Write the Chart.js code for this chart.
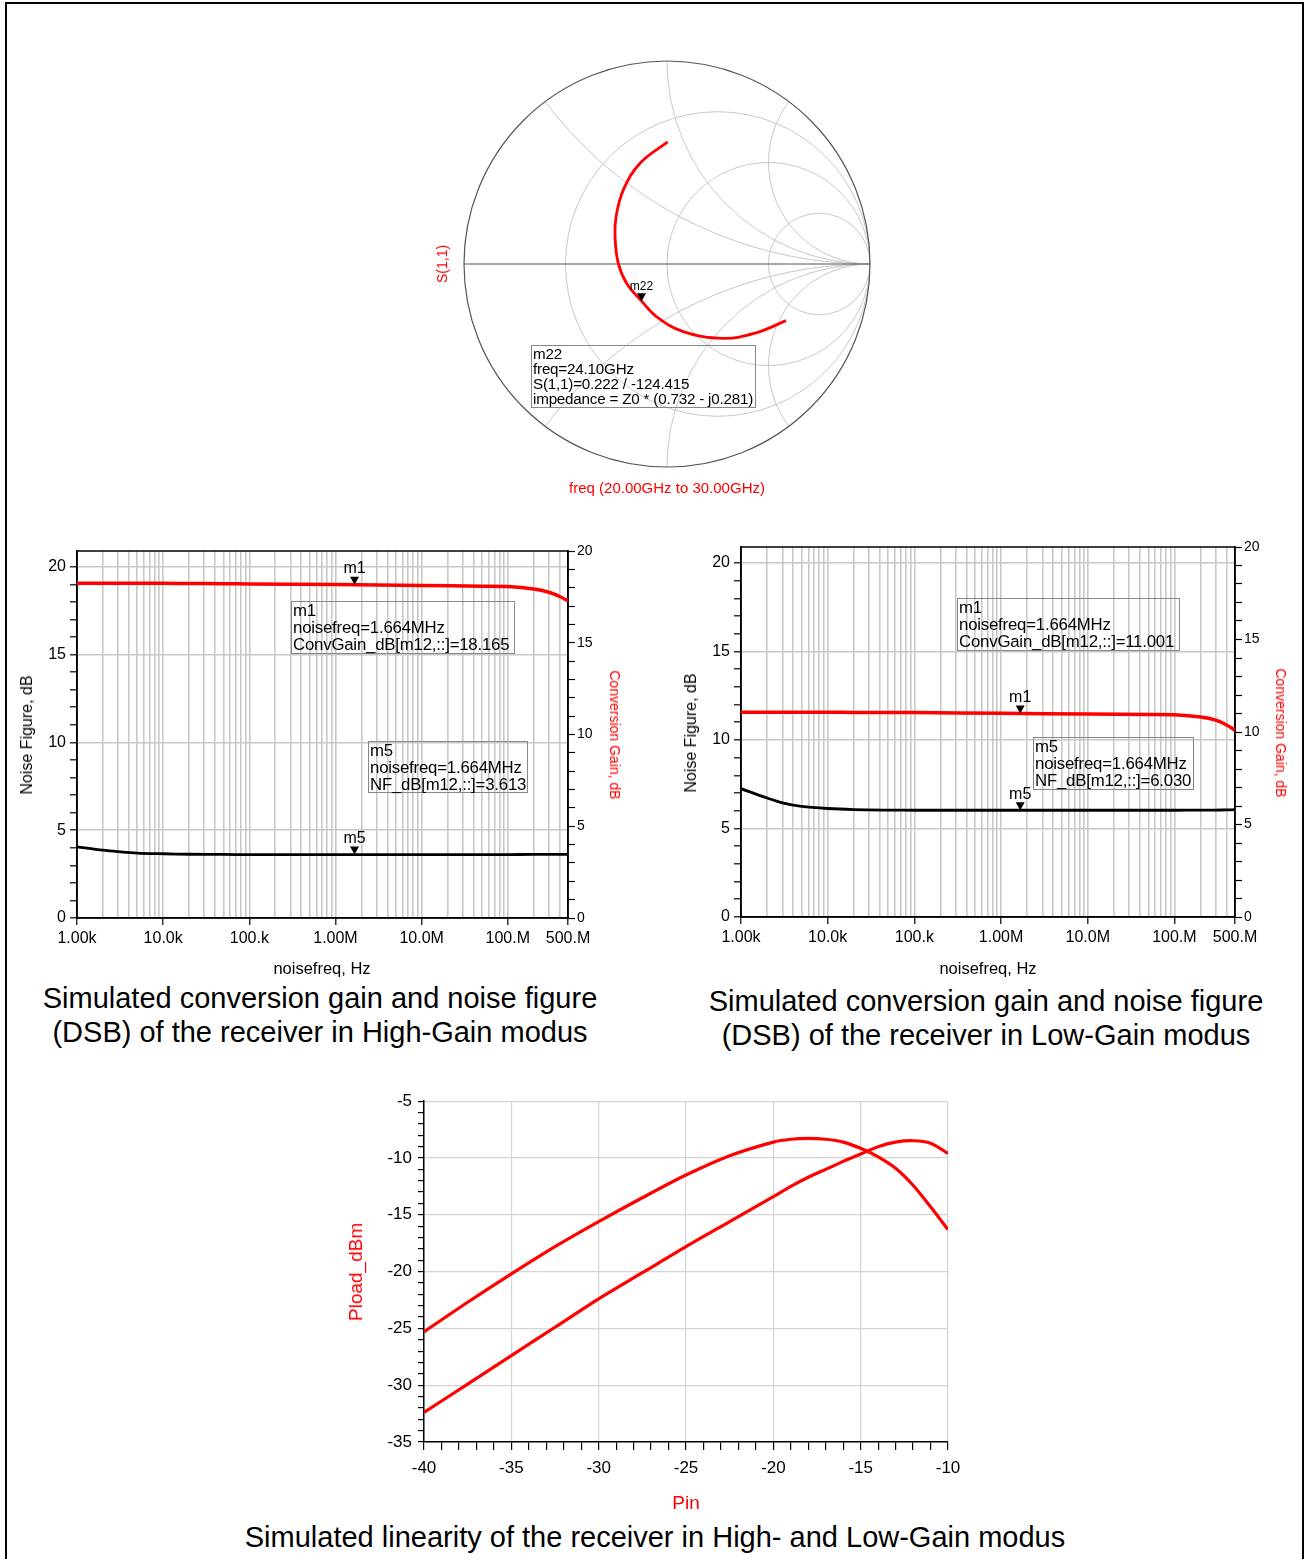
<!DOCTYPE html>
<html>
<head>
<meta charset="utf-8">
<script src="https://cdn.jsdelivr.net/npm/chart.js@4.4.0/dist/chart.umd.min.js"></script>
<style>
  body { margin: 0; background: #fff; font-family: "Liberation Sans", Arial, sans-serif; }
  #page { position: relative; width: 1309px; height: 1559px; overflow: hidden; }
  #frame { position: absolute; left: 5px; top: 2px; width: 1299px; height: 1600px; border: 2px solid #000; box-sizing: border-box; }
  canvas { position: absolute; }
  .lbl { position: absolute; transform: translate(-50%, -50%); white-space: nowrap; }
  .box { position: absolute; border: 1px solid #888; box-sizing: border-box; font-size: 16.8px; line-height: 17px; padding: 0 1px; white-space: nowrap; letter-spacing: -0.2px; }
  .cap { position: absolute; text-align: center; font-size: 29px; line-height: 34px; white-space: nowrap; }
</style>
</head>
<body>
<div id="page">
  <div id="frame"></div>

  <!-- Smith chart -->
  <canvas id="smith" width="500" height="470" style="left:420px; top:40px;"></canvas>
  <div class="lbl" style="left:442px; top:264px; transform:translate(-50%,-50%) rotate(-90deg); color:#f00; font-size:14px;">S(1,1)</div>
  <div class="lbl" style="left:667px; top:487px; color:#f00; font-size:15px;">freq (20.00GHz to 30.00GHz)</div>
  <div class="box" style="left:531px; top:345px; width:225px; height:63px; font-size:15.2px; line-height:15px;">m22<br>freq=24.10GHz<br>S(1,1)=0.222 / -124.415<br>impedance = Z0 * (0.732 - j0.281)</div>

  <!-- High gain -->
  <canvas id="nfHighChart" width="640" height="440" style="left:10px; top:530px;"></canvas>
  <div class="lbl" style="left:27px; top:735px; transform:translate(-50%,-50%) rotate(-90deg); font-size:16px;">Noise Figure, dB</div>
  <div class="lbl" style="left:615px; top:735px; transform:translate(-50%,-50%) rotate(90deg); font-size:14px; color:#f00;">Conversion Gain, dB</div>
  <div class="lbl" style="left:322px; top:968px; font-size:16.5px;">noisefreq, Hz</div>
  <div class="box" style="left:291px; top:601px; width:224px; height:53px;">m1<br>noisefreq=1.664MHz<br>ConvGain_dB[m12,::]=18.165</div>
  <div class="box" style="left:368px; top:741px; width:160px; height:52px;">m5<br>noisefreq=1.664MHz<br>NF_dB[m12,::]=3.613</div>
  <div class="cap" style="left:20px; width:600px; top:981px;">Simulated conversion gain and noise figure<br>(DSB) of the receiver in High-Gain modus</div>

  <!-- Low gain -->
  <canvas id="nfLowChart" width="630" height="440" style="left:676px; top:526px;"></canvas>
  <div class="lbl" style="left:691px; top:733px; transform:translate(-50%,-50%) rotate(-90deg); font-size:16px;">Noise Figure, dB</div>
  <div class="lbl" style="left:1281px; top:733px; transform:translate(-50%,-50%) rotate(90deg); font-size:14px; color:#f00;">Conversion Gain, dB</div>
  <div class="lbl" style="left:988px; top:968px; font-size:16.5px;">noisefreq, Hz</div>
  <div class="box" style="left:957px; top:598px; width:223px; height:53px;">m1<br>noisefreq=1.664MHz<br>ConvGain_dB[m12,::]=11.001</div>
  <div class="box" style="left:1033px; top:737px; width:161px; height:53px;">m5<br>noisefreq=1.664MHz<br>NF_dB[m12,::]=6.030</div>
  <div class="cap" style="left:686px; width:600px; top:984px;">Simulated conversion gain and noise figure<br>(DSB) of the receiver in Low-Gain modus</div>

  <!-- Linearity -->
  <canvas id="linChart" width="640" height="420" style="left:330px; top:1085px;"></canvas>
  <div class="lbl" style="left:356px; top:1272px; transform:translate(-50%,-50%) rotate(-90deg); font-size:19px; color:#f00;">Pload_dBm</div>
  <div class="lbl" style="left:686px; top:1503px; font-size:19px; color:#f00;">Pin</div>
  <div class="cap" style="left:155px; width:1000px; top:1520px;">Simulated linearity of the receiver in High- and Low-Gain modus</div>
</div>

<script>
// S(1,1) trace, 20 GHz -> 30 GHz (reflection coefficient, real / imag)
const s11Re = [0.003, -0.133, -0.215, -0.251, -0.256, -0.240, -0.199, -0.125, -0.051, 0.080, 0.277, 0.442, 0.586];
const s11Im = [0.602, 0.496, 0.365, 0.233, 0.134, 0.003, -0.095, -0.183, -0.260, -0.333, -0.366, -0.338, -0.279];
const m22 = { mag: 0.222, angDeg: -124.415 };
const smithR = [1 / 3, 1, 3];
const smithX = [0.5, 1, 2, -0.5, -1, -2];

// noise figure / conversion gain vs noisefreq
const freqHz = [1e3, 2e3, 3e3, 5e3, 1e4, 2e4, 5e4, 1e5, 1e6, 1e7, 5e7, 1e8, 2e8, 3e8, 4e8, 5e8];
const convGainHigh = [18.24, 18.24, 18.24, 18.24, 18.24, 18.23, 18.22, 18.2, 18.17, 18.12, 18.08, 18.06, 17.93, 17.75, 17.52, 17.28];
const nfHigh = [4.05, 3.86, 3.78, 3.7, 3.66, 3.63, 3.62, 3.61, 3.61, 3.61, 3.61, 3.61, 3.62, 3.62, 3.62, 3.63];
const convGainLow = [11.07, 11.07, 11.07, 11.07, 11.07, 11.06, 11.06, 11.05, 11.01, 10.97, 10.95, 10.93, 10.81, 10.64, 10.38, 10.1];
const nfLow = [7.25, 6.72, 6.45, 6.25, 6.13, 6.07, 6.04, 6.03, 6.03, 6.03, 6.03, 6.03, 6.04, 6.04, 6.05, 6.06];
const markerFreq = 1.664e6;
const xTickValues = [1e3, 1e4, 1e5, 1e6, 1e7, 1e8, 5e8];
const xTickLabels = ['1.00k', '10.0k', '100.k', '1.00M', '10.0M', '100.M', '500.M'];
const dbMajorTicks = [0, 5, 10, 15, 20];

// Pload vs Pin
const pinDbm = [-40, -37.5, -35, -32.5, -30, -27.5, -25, -22.5, -20, -19, -18, -17, -16, -15, -14, -13, -12, -11, -10];
const ploadHigh = [-25.3, -22.7, -20.2, -17.8, -15.6, -13.5, -11.5, -9.8, -8.6, -8.35, -8.27, -8.35, -8.6, -9.15, -9.9, -10.9, -12.4, -14.3, -16.3];
const ploadLow = [-32.4, -29.9, -27.4, -24.9, -22.4, -20.1, -17.8, -15.6, -13.4, -12.5, -11.7, -11.0, -10.3, -9.65, -9.0, -8.6, -8.48, -8.7, -9.6];
const pinMajorTicks = [-40, -35, -30, -25, -20, -15, -10];
const ploadMajorTicks = [-35, -30, -25, -20, -15, -10, -5];

Chart.defaults.font.family = '"Liberation Sans", Arial, sans-serif';
Chart.defaults.color = '#000';
Chart.defaults.animation = false;
Chart.defaults.plugins.legend.display = false;
Chart.defaults.plugins.tooltip.enabled = false;

const GRID = '#c8c8c8';
const NONE = 'rgba(0,0,0,0)';

function drawMarker(ctx, x, y, label, font) {
    ctx.save();
    ctx.fillStyle = '#000';
    ctx.beginPath();
    ctx.moveTo(x, y);
    ctx.lineTo(x - 4.5, y - 8);
    ctx.lineTo(x + 4.5, y - 8);
    ctx.closePath();
    ctx.fill();
    ctx.font = font;
    ctx.textAlign = 'center';
    ctx.textBaseline = 'bottom';
    ctx.fillText(label, x, y - 8);
    ctx.restore();
}

function intTicks(min, max) {
    const t = [];
    for (let v = min; v <= max; v++) t.push({ value: v });
    return t;
}

// ---- Smith chart
new Chart(document.getElementById('smith'), {
    type: 'scatter',
    data: {
        datasets: [{
            data: s11Re.map((r, i) => ({ x: r, y: s11Im[i] })),
            showLine: true,
            borderColor: '#ff0000',
            borderWidth: 2.8,
            pointRadius: 0,
            tension: 0.4
        }]
    },
    options: {
        responsive: false,
        layout: { padding: { left: 44, top: 21, right: 50, bottom: 43 } },
        scales: {
            x: { display: false, min: -1, max: 1 },
            y: { display: false, min: -1, max: 1 }
        }
    },
    plugins: [{
        id: 'smithGrid',
        beforeDatasetsDraw(chart) {
            const ctx = chart.ctx, sx = chart.scales.x, sy = chart.scales.y;
            const cx = sx.getPixelForValue(0), cy = sy.getPixelForValue(0);
            const R = sx.getPixelForValue(1) - cx;
            ctx.save();
            ctx.beginPath();
            ctx.arc(cx, cy, R, 0, 2 * Math.PI);
            ctx.clip();
            ctx.strokeStyle = GRID;
            ctx.lineWidth = 1;
            smithR.forEach(r => {
                ctx.beginPath();
                ctx.arc(cx + R * r / (r + 1), cy, R / (r + 1), 0, 2 * Math.PI);
                ctx.stroke();
            });
            smithX.forEach(x => {
                ctx.beginPath();
                ctx.arc(cx + R, cy - R / x, R / Math.abs(x), 0, 2 * Math.PI);
                ctx.stroke();
            });
            ctx.restore();
            ctx.save();
            ctx.strokeStyle = '#555';
            ctx.lineWidth = 1.2;
            ctx.beginPath();
            ctx.arc(cx, cy, R, 0, 2 * Math.PI);
            ctx.stroke();
            ctx.beginPath();
            ctx.moveTo(cx - R, cy);
            ctx.lineTo(cx + R, cy);
            ctx.stroke();
            ctx.restore();
        },
        afterDatasetsDraw(chart) {
            const a = m22.angDeg * Math.PI / 180;
            const x = chart.scales.x.getPixelForValue(m22.mag * Math.cos(a));
            const y = chart.scales.y.getPixelForValue(m22.mag * Math.sin(a));
            drawMarker(chart.ctx, x, y, 'm22', '12px "Liberation Sans", Arial, sans-serif');
        }
    }]
});

// ---- NF / conversion gain charts
const logTicks = [];
for (let e = 3; e <= 8; e++) {
    for (let k = 1; k <= 9; k++) {
        const v = k * Math.pow(10, e);
        if (v <= 5e8) logTicks.push(v);
    }
}

function noiseChart(id, area, nf, cg, nfMark, cgMark) {
    const canvas = document.getElementById(id);
    const w = canvas.width, h = canvas.height;
    const dbLabel = v => dbMajorTicks.includes(v) ? String(v) : '';
    return new Chart(canvas, {
        type: 'scatter',
        data: {
            datasets: [{
                data: freqHz.map((f, i) => ({ x: f, y: cg[i] })),
                yAxisID: 'y2',
                showLine: true,
                borderColor: '#ff0000',
                borderWidth: 3.5,
                pointRadius: 0,
                tension: 0.3
            }, {
                data: freqHz.map((f, i) => ({ x: f, y: nf[i] })),
                yAxisID: 'y',
                showLine: true,
                borderColor: '#000',
                borderWidth: 2.8,
                pointRadius: 0,
                tension: 0.3
            }]
        },
        options: {
            responsive: false,
            layout: { padding: { top: area.t, left: 0, right: 0, bottom: 0 } },
            scales: {
                x: {
                    type: 'logarithmic',
                    min: 1e3,
                    max: 5e8,
                    afterBuildTicks: s => { s.ticks = logTicks.map(v => ({ value: v })); },
                    afterFit: s => { s.height = h - area.b; },
                    ticks: {
                        autoSkip: false,
                        maxRotation: 0,
                        padding: 4,
                        font: { size: 16 },
                        callback: v => {
                            const i = xTickValues.indexOf(v);
                            return i < 0 ? '' : xTickLabels[i];
                        }
                    },
                    grid: {
                        color: GRID,
                        lineWidth: 1.6,
                        tickLength: 7,
                        tickWidth: 1.2,
                        tickColor: c => (c.tick && xTickValues.includes(c.tick.value)) ? '#000' : NONE
                    },
                    border: { color: '#000', width: 1.5 }
                },
                y: {
                    position: 'left',
                    min: 0,
                    max: 20.9,
                    afterBuildTicks: s => { s.ticks = intTicks(0, 20); },
                    afterFit: s => { s.width = area.l; },
                    ticks: { autoSkip: false, padding: 4, font: { size: 16 }, callback: dbLabel },
                    grid: {
                        color: c => (c.tick && dbMajorTicks.includes(c.tick.value) && c.tick.value > 0) ? GRID : NONE,
                        lineWidth: 1.6,
                        tickLength: 7,
                        tickWidth: 1.2,
                        tickColor: '#000'
                    },
                    border: { color: '#000', width: 1.5 }
                },
                y2: {
                    position: 'right',
                    min: 0,
                    max: 20,
                    afterBuildTicks: s => { s.ticks = intTicks(0, 20); },
                    afterFit: s => { s.width = w - area.r; },
                    ticks: { autoSkip: false, padding: 2, font: { size: 14 }, callback: dbLabel },
                    grid: { drawOnChartArea: false, tickLength: 7, tickWidth: 1.2, tickColor: '#000', color: '#000' },
                    border: { color: '#000', width: 1.5 }
                }
            }
        },
        plugins: [{
            id: 'frameAndMarkers',
            beforeDatasetsDraw(chart) {
                const a = chart.chartArea, ctx = chart.ctx;
                ctx.save();
                ctx.strokeStyle = '#000';
                ctx.lineWidth = 1.5;
                ctx.strokeRect(a.left, a.top, a.right - a.left, a.bottom - a.top);
                ctx.restore();
            },
            afterDatasetsDraw(chart) {
                const font = '16px "Liberation Sans", Arial, sans-serif';
                const x = chart.scales.x.getPixelForValue(markerFreq);
                drawMarker(chart.ctx, x, chart.scales.y2.getPixelForValue(cgMark), 'm1', font);
                drawMarker(chart.ctx, x, chart.scales.y.getPixelForValue(nfMark), 'm5', font);
            }
        }]
    });
}

noiseChart('nfHighChart', { l: 67, t: 21, r: 558, b: 388 }, nfHigh, convGainHigh, 3.613, 18.165);
noiseChart('nfLowChart', { l: 65, t: 21, r: 559, b: 391 }, nfLow, convGainLow, 6.030, 11.001);

// ---- Linearity
new Chart(document.getElementById('linChart'), {
    type: 'scatter',
    data: {
        datasets: [ploadHigh, ploadLow].map(series => ({
            data: pinDbm.map((p, i) => ({ x: p, y: series[i] })),
            showLine: true,
            borderColor: '#ff0000',
            borderWidth: 3.2,
            pointRadius: 0,
            tension: 0.3
        }))
    },
    options: {
        responsive: false,
        layout: { padding: { top: 16, right: 22, left: 0, bottom: 0 } },
        scales: {
            x: {
                min: -40,
                max: -10,
                afterBuildTicks: s => { s.ticks = intTicks(-40, -10); },
                afterFit: s => { s.height = 63; },
                ticks: {
                    autoSkip: false,
                    maxRotation: 0,
                    padding: 8,
                    font: { size: 17 },
                    callback: v => pinMajorTicks.includes(v) ? String(v) : ''
                },
                grid: {
                    color: c => (c.tick && pinMajorTicks.includes(c.tick.value)) ? '#d4d4d4' : NONE,
                    lineWidth: 1.2,
                    tickLength: 8,
                    tickWidth: 1.2,
                    tickColor: '#000'
                },
                border: { color: '#000', width: 1.5 }
            },
            y: {
                min: -35,
                max: -5,
                afterBuildTicks: s => { s.ticks = intTicks(-35, -5); },
                afterFit: s => { s.width = 94; },
                ticks: {
                    autoSkip: false,
                    padding: 6,
                    font: { size: 17 },
                    callback: v => ploadMajorTicks.includes(v) ? String(v) : ''
                },
                grid: {
                    color: c => (c.tick && ploadMajorTicks.includes(c.tick.value)) ? '#d4d4d4' : NONE,
                    lineWidth: 1.2,
                    tickLength: 6,
                    tickWidth: 1.2,
                    tickColor: '#000'
                },
                border: { color: '#000', width: 1.5 }
            }
        }
    }
});
</script>
</body>
</html>
